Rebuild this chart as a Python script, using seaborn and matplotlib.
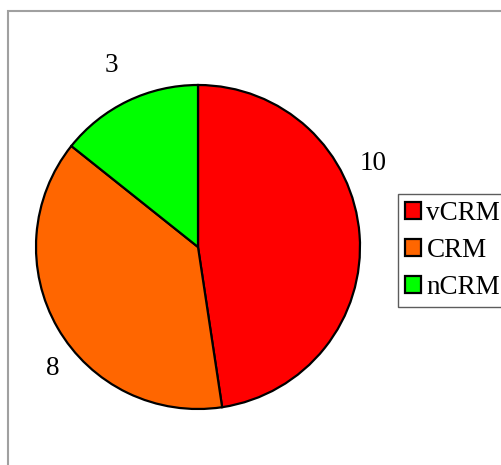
import matplotlib.pyplot as plt
from matplotlib.patches import Rectangle
import numpy as np
import seaborn as sns

# data
categories = ['vCRM', 'CRM', 'nCRM']
counts = [10, 8, 3]
colours = ['#FF0000', '#FF6600', '#00FF00']
# where the number labels sit (degrees, counter-clockwise from east)
label_angles = [25.5, 220.0, 115.7]

sns.set_theme(style='white')
plt.rcParams['font.family'] = ['Liberation Serif', 'DejaVu Serif']
plt.rcParams['text.color'] = 'black'

W, H = 501, 465
fig = plt.figure(figsize=(W / 100, H / 100), dpi=100)

# grey frame round the chart area (runs off the right and bottom edges)
fig.patches.append(Rectangle(
    (7.5 / W, -0.1), 1.2, 1 - 11.5 / H + 0.1, transform=fig.transFigure,
    fill=False, edgecolor='#a0a0a0', linewidth=1.5, zorder=0
))

cx, cy, r = 198, H - 247, 162
ax = fig.add_axes([(cx - r) / W, (cy - r) / H, 2 * r / W, 2 * r / H])

wedges, _ = ax.pie(
    counts, colors=sns.color_palette(colours), startangle=90,
    counterclock=False, radius=1,
    wedgeprops=dict(edgecolor='black', linewidth=1.6),
)
ax.set_xlim(-1, 1)
ax.set_ylim(-1, 1)
ax.set_aspect('equal')
ax.set_axis_off()

dist = [1.2, 1.17, 1.24]
for n, a, d in zip(counts, label_angles, dist):
    t = np.deg2rad(a)
    ax.text(d * np.cos(t), d * np.sin(t), str(n), ha='center', va='center',
            fontsize=19.5, color='black', clip_on=False)

leg = fig.legend(
    wedges, categories, loc='upper left',
    bbox_to_anchor=(398 / W, 1 - 194 / H), fontsize=19.5,
    frameon=True, fancybox=False, borderpad=0.25, labelspacing=0.45,
    handlelength=0.6, handleheight=0.6, handletextpad=0.2,
    borderaxespad=0, labelcolor='black',
)
leg.get_frame().set_edgecolor('#333333')
leg.get_frame().set_linewidth(1.0)

fig.savefig('out.png', dpi=100)
